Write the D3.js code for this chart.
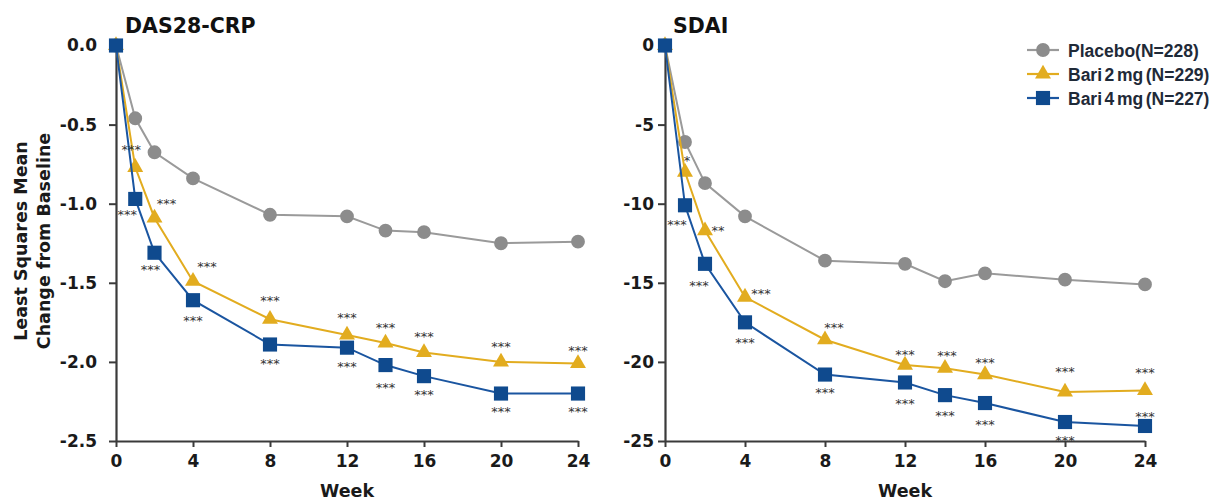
<!DOCTYPE html>
<html>
<head>
<meta charset="utf-8">
<script src="https://cdn.jsdelivr.net/npm/d3@7/dist/d3.min.js"></script>
<style>
  html, body { margin: 0; padding: 0; background: #fff; }
  svg { display: block; }
</style>
</head>
<body>
<svg id="chart" width="1224" height="502"></svg>
<script>
// ---------------- DATA ----------------
const weeks = [0, 1, 2, 4, 8, 12, 14, 16, 20, 24];
const xTicks = [0, 4, 8, 12, 16, 20, 24];

const das28Placebo = [0, -0.46, -0.675, -0.84, -1.07, -1.08, -1.17, -1.18, -1.25, -1.24];
const das28Bari2   = [0, -0.77, -1.09, -1.49, -1.73, -1.83, -1.88, -1.94, -2.00, -2.01];
const das28Bari4   = [0, -0.97, -1.31, -1.61, -1.89, -1.91, -2.02, -2.09, -2.20, -2.20];

const sdaiPlacebo = [0, -6.1, -8.7, -10.8, -13.6, -13.8, -14.9, -14.4, -14.8, -15.1];
const sdaiBari2   = [0, -8.0, -11.7, -15.9, -18.6, -20.2, -20.4, -20.8, -21.9, -21.8];
const sdaiBari4   = [0, -10.1, -13.8, -17.5, -20.8, -21.3, -22.1, -22.6, -23.8, -24.05];

const das28Ticks = [0, -0.5, -1.0, -1.5, -2.0, -2.5];
const das28TickLabels = ["0.0", "-0.5", "-1.0", "-1.5", "-2.0", "-2.5"];
const sdaiTicks = [0, -5, -10, -15, -20, -25];
const sdaiTickLabels = ["0", "-5", "-10", "-15", "-20", "-25"];

const das28Bari2Sig = ["", "***", "***", "***", "***", "***", "***", "***", "***", "***"];
const das28Bari4Sig = ["", "***", "***", "***", "***", "***", "***", "***", "***", "***"];
const sdaiBari2Sig  = ["", "*", "**", "***", "***", "***", "***", "***", "***", "***"];
const sdaiBari4Sig  = ["", "***", "***", "***", "***", "***", "***", "***", "***", "***"];

const seriesNames = ["Placebo(N=228)", "Bari 2 mg (N=229)", "Bari 4 mg (N=227)"];
const panelTitles = ["DAS28-CRP", "SDAI"];
const yLabelLines = ["Least Squares Mean", "Change from Baseline"];
const xLabel = "Week";

// ---------------- LAYOUT / STYLE ----------------
const colors = ["#8c8c8c", "#e2ac1f", "#0f4a8e"];
const lineColors = ["#9a9a9a", "#e2ac1f", "#1a55a0"];
const symbols = [d3.symbolCircle, d3.symbolTriangle, d3.symbolSquare];
const symbolSizes = [150, 110, 200];
const axisColor = "#3a3a3a";
const tickFont = "'DejaVu Sans', sans-serif";

// significance label offsets (px, relative to marker centre)
const das28Bari2Off = [[0,0],[-4,-21],[12,-17],[14,-18],[0,-22],[0,-21],[0,-18],[0,-19],[0,-18],[0,-16]];
const das28Bari4Off = [[0,0],[-8,13],[-4,14],[0,17],[0,16],[0,16],[0,19],[0,15],[0,15],[0,15]];
const sdaiBari2Off  = [[0,0],[2,-15],[13,-3],[16,-7],[9,-15],[0,-14],[2,-16],[0,-15],[0,-23],[0,-21]];
const sdaiBari4Off  = [[0,0],[-8,16],[-6,19],[0,17],[0,15],[0,18],[0,17],[0,18],[0,15],[0,-12]];

const panels = [
  { x0: 116, x1: 578, yTop: 45.5, yBot: 441, domain: [-2.5, 0],
    ticks: das28Ticks, tickLabels: das28TickLabels, tickPad: 12,
    series: [das28Placebo, das28Bari2, das28Bari4],
    sig: [null, das28Bari2Sig, das28Bari4Sig], off: [null, das28Bari2Off, das28Bari4Off],
    title: panelTitles[0], titleX: 125 },
  { x0: 665, x1: 1145, yTop: 45.5, yBot: 441, domain: [-25, 0],
    ticks: sdaiTicks, tickLabels: sdaiTickLabels, tickPad: 4,
    series: [sdaiPlacebo, sdaiBari2, sdaiBari4],
    sig: [null, sdaiBari2Sig, sdaiBari4Sig], off: [null, sdaiBari2Off, sdaiBari4Off],
    title: panelTitles[1], titleX: 673 }
];

const svg = d3.select("#chart");

panels.forEach((p) => {
  const x = d3.scaleLinear().domain([0, 24]).range([p.x0, p.x1]);
  const y = d3.scaleLinear().domain(p.domain).range([p.yBot, p.yTop]);
  const g = svg.append("g");

  // axes
  const xAxis = d3.axisBottom(x).tickValues(xTicks).tickSize(6).tickPadding(8).tickSizeOuter(0)
    .tickFormat(d => String(d));
  const gx = g.append("g").attr("transform", `translate(0,${p.yBot})`).call(xAxis);
  const yAxis = d3.axisLeft(y).tickValues(p.ticks).tickSize(7).tickPadding(p.tickPad).tickSizeOuter(0)
    .tickFormat((d, i) => p.tickLabels[i]);
  const gy = g.append("g").attr("transform", `translate(${p.x0},0)`).call(yAxis);

  [gx, gy].forEach(ax => {
    ax.select(".domain").attr("stroke", axisColor).attr("stroke-width", 2.2);
    ax.selectAll(".tick line").attr("stroke", axisColor).attr("stroke-width", 2);
    ax.selectAll(".tick text").attr("fill", "#1a1a1a")
      .style("font-family", tickFont).style("font-weight", "bold").style("font-size", "17px");
  });

  // lines + markers
  p.series.forEach((vals, si) => {
    const pts = weeks.map((w, i) => [x(w), y(vals[i])]);
    g.append("path")
      .attr("d", d3.line()(pts))
      .attr("fill", "none")
      .attr("stroke", lineColors[si])
      .attr("stroke-width", 2);
    g.selectAll(null).data(weeks).enter().append("path")
      .attr("d", d3.symbol().type(symbols[si]).size(symbolSizes[si]))
      .attr("transform", (w, i) => `translate(${x(w)},${y(vals[i])})`)
      .attr("fill", colors[si]);
  });

  // significance labels
  [1, 2].forEach(si => {
    const vals = p.series[si];
    weeks.forEach((w, i) => {
      const lab = p.sig[si][i];
      if (!lab) return;
      const o = p.off[si][i];
      g.append("text")
        .attr("x", x(w) + o[0])
        .attr("y", y(vals[i]) + o[1] + 7.5)
        .attr("text-anchor", "middle")
        .style("font-family", tickFont)
        .style("font-size", "13px")
        .attr("fill", "#333")
        .text(lab);
    });
  });

  // titles
  g.append("text")
    .attr("x", p.titleX).attr("y", 33)
    .style("font-family", tickFont).style("font-weight", "bold").style("font-size", "20.5px")
    .attr("fill", "#111")
    .text(p.title);

  g.append("text")
    .attr("x", (p.x0 + p.x1) / 2).attr("y", 497)
    .attr("text-anchor", "middle")
    .style("font-family", tickFont).style("font-weight", "bold").style("font-size", "17.5px")
    .attr("fill", "#1a1a1a")
    .text(xLabel);
});

// Y axis label (two lines)
const yl = svg.append("text")
  .attr("transform", "translate(27,241) rotate(-90)")
  .attr("text-anchor", "middle")
  .style("font-family", tickFont).style("font-weight", "bold").style("font-size", "17.5px")
  .attr("fill", "#1a1a1a");
yLabelLines.forEach((t, i) => {
  yl.append("tspan").attr("x", 0).attr("dy", i === 0 ? 0 : 23).text(t);
});

// Legend
const leg = svg.append("g");
const legY = [50, 74, 98];
seriesNames.forEach((name, si) => {
  const yy = legY[si];
  leg.append("line").attr("x1", 1027).attr("x2", 1059).attr("y1", yy).attr("y2", yy)
    .attr("stroke", lineColors[si]).attr("stroke-width", 2.2);
  leg.append("path")
    .attr("d", d3.symbol().type(symbols[si]).size(symbolSizes[si]))
    .attr("transform", `translate(1043,${yy})`)
    .attr("fill", colors[si]);
  leg.append("text")
    .attr("x", 1068).attr("y", yy + 6.5)
    .style("font-family", "'Liberation Sans', Arial, sans-serif")
    .style("font-weight", "bold").style("font-size", "17.5px")
    .style("word-spacing", "-2.3px")
    .attr("fill", "#1f2a38")
    .text(name);
});
</script>
</body>
</html>
